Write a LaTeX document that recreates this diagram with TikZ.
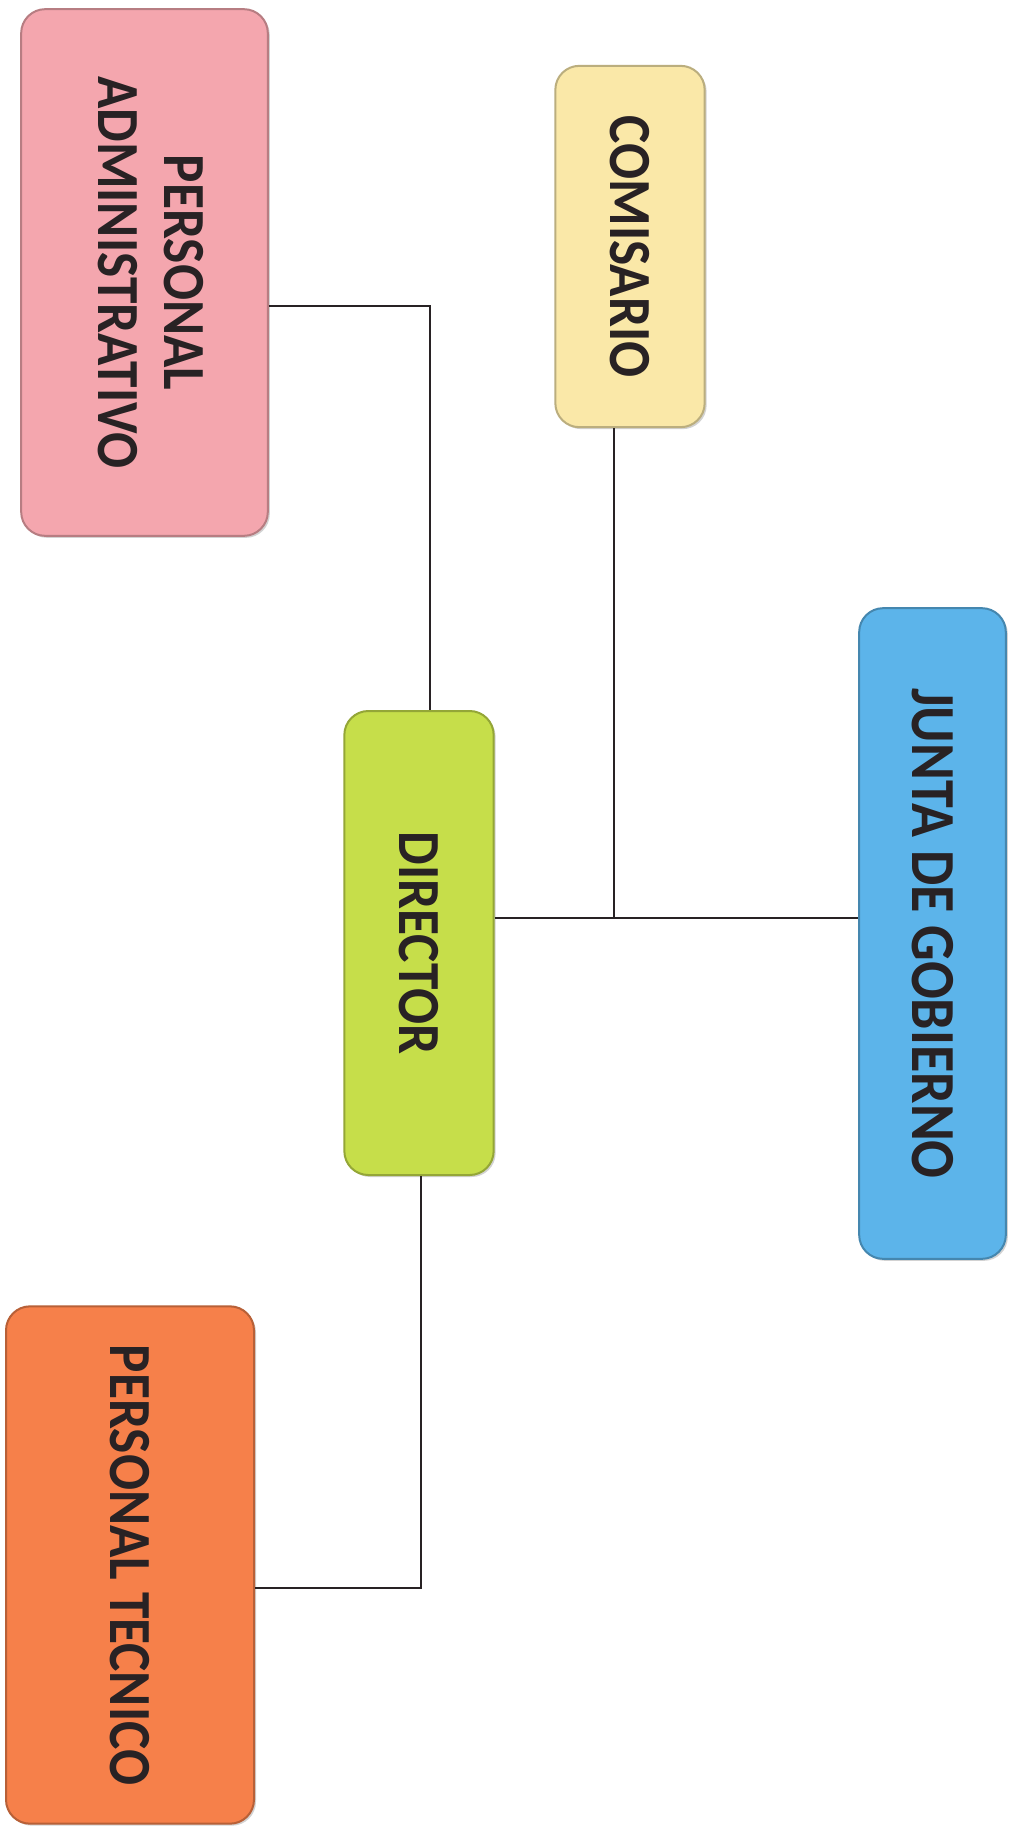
\documentclass[tikz,border=0pt]{standalone}
\usepackage{fontspec}
\setmainfont{Carlito}
\usetikzlibrary{shadows}

\definecolor{rosa}{RGB}{244,166,174}
\definecolor{crema}{RGB}{250,232,168}
\definecolor{celeste}{RGB}{92,180,234}
\definecolor{lima}{RGB}{198,222,74}
\definecolor{naranja}{RGB}{246,128,74}
\definecolor{tinta}{RGB}{40,34,36}

\newcommand{\giro}[1]{\rotatebox{-90}{\scalebox{1}[1.12]{#1}}}

\tikzset{every picture/.style={line width=0.75pt}}
\tikzset{
  caja/.style={rounded corners=18pt, inner sep=0pt, text=tinta, line width=1.5pt,
    font=\bfseries\fontsize{40}{44}\selectfont,
    drop shadow={shadow xshift=1.5pt, shadow yshift=-1.5pt, opacity=0.35}},
  linea/.style={draw=tinta, line width=1.6pt}
}

\begin{document}
\begin{tikzpicture}[x=0.75pt,y=0.75pt,yscale=-1,xscale=1]
\useasboundingbox [fill=white] (0,0) rectangle (1013,1828);

%Rounded Rect: personal administrativo
\node [caja, fill=rosa, draw=rosa!75!black, minimum width=185pt, minimum height=395pt] (admin) at (144.5,272.5) {\giro{\begin{tabular}{@{}c@{}}PERSONAL\\ADMINISTRATIVO\end{tabular}}};
%Rounded Rect: comisario
\node [caja, fill=crema, draw=crema!75!black, minimum width=112pt, minimum height=271pt] (comis) at (630,246.5) {\giro{COMISARIO}};
%Rounded Rect: junta de gobierno
\node [caja, fill=celeste, draw=celeste!75!black, minimum width=110pt, minimum height=488pt, font=\bfseries\fontsize{42}{46}\selectfont] (junta) at (932.5,933.5) {\giro{JUNTA DE GOBIERNO}};
%Rounded Rect: director
\node [caja, fill=lima, draw=lima!75!black, minimum width=112pt, minimum height=348pt] (dir) at (419,943) {\giro{DIRECTOR}};
%Rounded Rect: personal tecnico
\node [caja, fill=naranja, draw=naranja!75!black, minimum width=186pt, minimum height=388pt] (tecnico) at (130,1565) {\giro{PERSONAL TECNICO}};

% corners of the connectors
\coordinate (kadmin) at (430,306);
\coordinate (kcomis) at (614,918);
\coordinate (ktecnico) at (421,1588);

%Straight Lines
\draw [linea] (admin.east |- kadmin) -- (kadmin) -- (kadmin |- dir.north);
\draw [linea] (dir.east |- kcomis) -- (junta.west |- kcomis);
\draw [linea] (comis.south -| kcomis) -- (kcomis);
\draw [linea] (dir.south -| ktecnico) -- (ktecnico) -- (tecnico.east |- ktecnico);

\end{tikzpicture}
\end{document}
